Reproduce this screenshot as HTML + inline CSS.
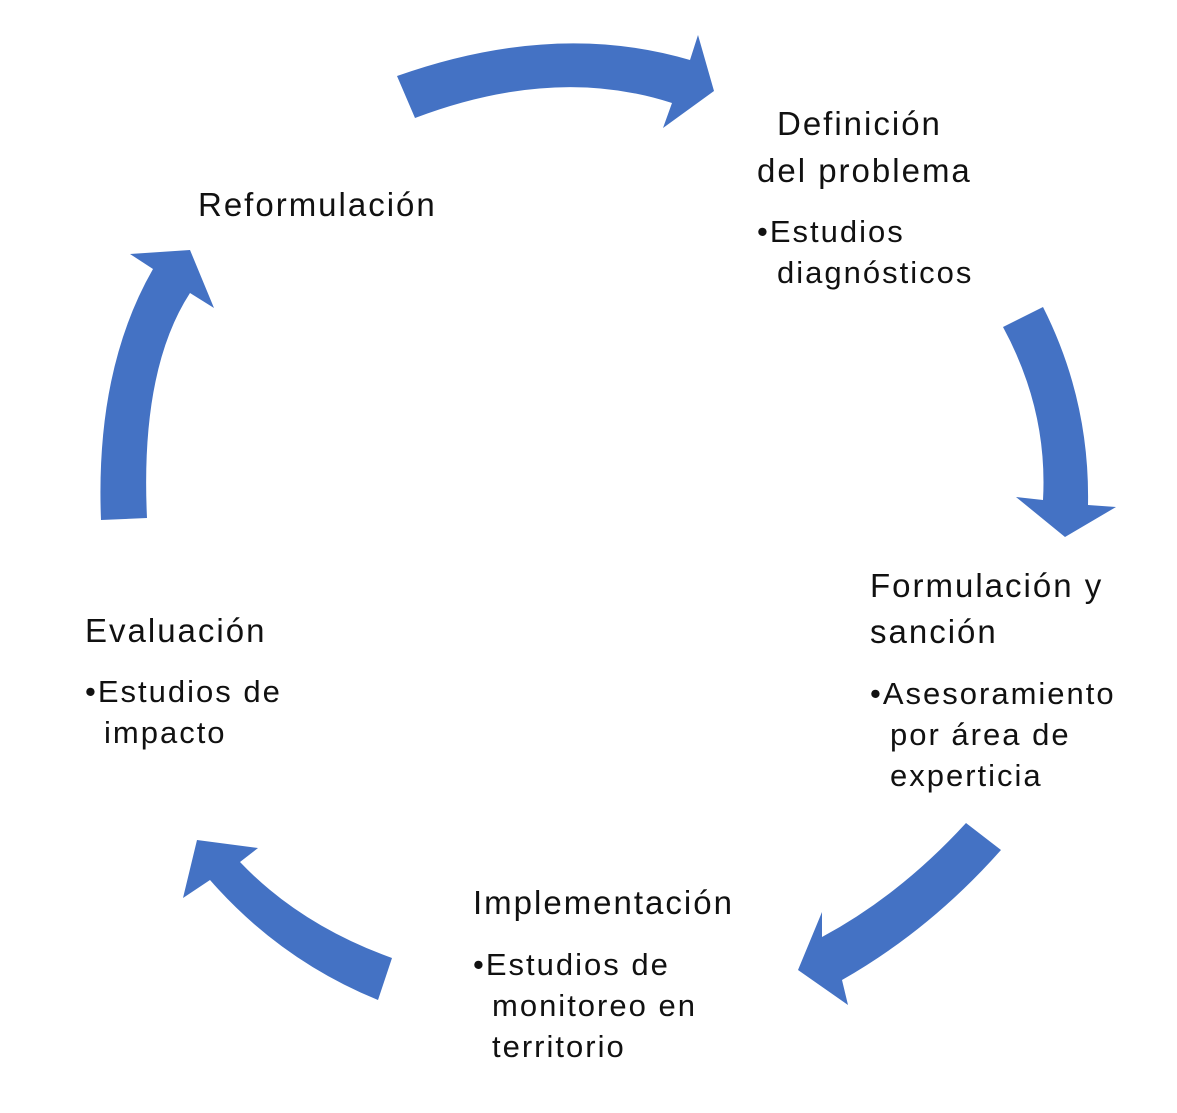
<!DOCTYPE html>
<html><head><meta charset="utf-8"><style>
body{margin:0;background:#fff;width:1177px;height:1113px;overflow:hidden;position:relative;font-family:"Liberation Sans",sans-serif;color:#111}
.t{position:absolute;font-size:33px;line-height:46px;letter-spacing:2px;white-space:nowrap}
.s{position:absolute;font-size:31px;line-height:41px;letter-spacing:2px;white-space:nowrap}
</style></head><body>
<svg width="1177" height="1113" style="position:absolute;left:0;top:0">
<g fill="#4472c4">
<path d="M397,76 Q555,20 690,60 L698,35 L714,91 L663,128 L672,103 Q555,65 415,118 Z"/>
<path d="M1003,327 L1043,307 Q1090,400 1088,505 L1116,507 L1065,537 L1016,497 L1043,500 Q1048,410 1003,327 Z"/>
<path d="M966,823 L1001,850 Q930,930 842,980 L848,1005 L798,970 L822,912 L822,937 Q900,895 966,823 Z"/>
<path d="M392,958 L378,1000 Q280,960 210,880 L183,898 L197,840 L258,848 L240,862 Q300,925 392,958 Z"/>
<path d="M101,520 L147,518 Q140,370 190,293 L214,308 L190,250 L130,254 L153,269 Q95,370 101,520 Z"/>
</g></svg>
<div class="t" style="left:198px;top:182px">Reformulación</div>
<div class="t" style="left:777px;top:101px">Definición</div>
<div class="t" style="left:757px;top:148px">del problema</div>
<div class="s" style="left:757px;top:211px">•Estudios</div>
<div class="s" style="left:777px;top:252px">diagnósticos</div>
<div class="t" style="left:870px;top:563px">Formulación y</div>
<div class="t" style="left:870px;top:609px">sanción</div>
<div class="s" style="left:870px;top:673px">•Asesoramiento</div>
<div class="s" style="left:890px;top:714px">por área de</div>
<div class="s" style="left:890px;top:755px">experticia</div>
<div class="t" style="left:473px;top:880px">Implementación</div>
<div class="s" style="left:473px;top:944px">•Estudios de</div>
<div class="s" style="left:492px;top:985px">monitoreo en</div>
<div class="s" style="left:492px;top:1026px">territorio</div>
<div class="t" style="left:85px;top:608px">Evaluación</div>
<div class="s" style="left:85px;top:671px">•Estudios de</div>
<div class="s" style="left:104px;top:712px">impacto</div>
</body></html>
